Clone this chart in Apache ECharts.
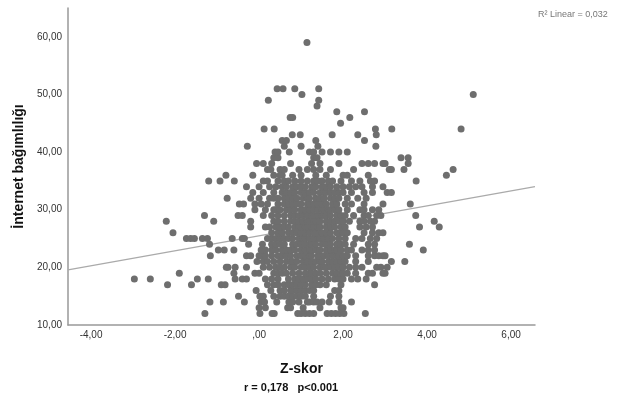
<!DOCTYPE html>
<html>
<head>
<meta charset="utf-8">
<script src="https://cdn.jsdelivr.net/npm/echarts@6/dist/echarts.min.js"></script>
<style>
  html, body { margin: 0; padding: 0; background: #fff; }
  #chart { width: 625px; height: 398px; }
</style>
</head>
<body>
<div id="chart"></div>
<script>
  var scoreLevels = [12, 13, 14, 15, 16, 17, 18, 19, 20, 21, 22, 23, 24, 25, 26, 27, 28, 29, 30,
    31, 32, 33, 34, 35, 36, 37, 38, 39, 40, 41, 42, 43, 44, 45, 46, 47, 48, 49, 50, 51, 59];
  var zByLevel = [
    [-1.29, 0.02, 0.31, 0.36, 0.92, 1.0, 1.1, 1.2, 1.3, 1.62, 1.72, 1.82, 1.92, 2.02, 2.53],
    [0.0, 0.15, 0.68, 0.75, 1.05, 1.45, 1.95, 2.0],
    [-1.17, -0.85, -0.35, 0.05, 0.13, 0.42, 0.71, 0.8, 0.95, 1.15, 1.2, 1.3, 1.38, 1.5, 1.67, 1.9, 2.2],
    [-0.49, 0.02, 0.1, 0.35, 0.5, 0.6, 0.7, 0.8, 0.9, 1.0, 1.1, 1.3, 1.7, 1.9],
    [-0.07, 0.28, 0.5, 0.6, 0.75, 0.8, 0.9, 1.0, 1.1, 1.2, 1.3, 1.8, 1.9],
    [-2.18, -1.61, -0.9, -0.81, 0.2, 0.35, 0.45, 0.6, 0.7, 0.8, 0.9, 1.0, 1.1, 1.25, 1.35, 1.45, 1.6, 1.95, 2.75],
    [-2.97, -2.59, -1.47, -1.21, -0.57, -0.4, -0.3, 0.15, 0.3, 0.45, 0.7, 0.85, 0.95, 1.05, 1.15, 1.25, 1.35, 1.5, 1.65, 1.8, 1.9, 2.0, 2.2, 2.35, 2.55],
    [-1.9, -0.6, -0.1, 0.0, 0.35, 0.45, 0.55, 0.65, 0.8, 0.95, 1.1, 1.2, 1.25, 1.35, 1.45, 1.6, 1.75, 1.85, 1.95, 2.0, 2.1, 2.3, 2.6, 2.7, 2.95, 3.0],
    [-0.78, -0.74, -0.57, -0.3, 0.1, 0.25, 0.4, 0.5, 0.6, 0.75, 0.85, 1.0, 1.1, 1.2, 1.3, 1.45, 1.55, 1.6, 1.7, 1.8, 1.9, 2.0, 2.15, 2.3, 2.45, 2.8, 2.9, 3.05],
    [-0.05, 0.1, 0.2, 0.35, 0.5, 0.65, 0.75, 0.8, 0.9, 1.05, 1.15, 1.25, 1.35, 1.45, 1.5, 1.65, 1.75, 1.85, 1.95, 2.05, 2.3, 2.6, 3.15, 3.47],
    [-1.16, -0.3, -0.2, 0.0, 0.05, 0.15, 0.3, 0.45, 0.55, 0.65, 0.75, 0.9, 1.0, 1.1, 1.2, 1.25, 1.4, 1.45, 1.55, 1.65, 1.75, 1.85, 1.9, 2.0, 2.1, 2.3, 2.6, 2.75, 2.85, 2.95, 3.0],
    [-0.97, -0.83, -0.6, 0.05, 0.15, 0.3, 0.4, 0.55, 0.65, 0.75, 0.85, 1.0, 1.1, 1.2, 1.25, 1.35, 1.45, 1.6, 1.7, 1.8, 1.85, 1.95, 2.1, 2.2, 2.45, 2.6, 2.75, 3.91],
    [-1.18, -0.25, 0.08, 0.3, 0.4, 0.5, 0.6, 0.8, 0.9, 1.0, 1.1, 1.2, 1.25, 1.35, 1.5, 1.6, 1.7, 1.85, 1.95, 2.05, 2.25, 2.6, 2.75, 3.58],
    [-1.73, -1.63, -1.54, -1.35, -1.23, -0.64, -0.4, -0.35, 0.2, 0.3, 0.4, 0.5, 0.6, 0.7, 0.8, 0.95, 1.05, 1.1, 1.2, 1.3, 1.4, 1.45, 1.55, 1.65, 1.75, 1.9, 2.05, 2.3, 2.45, 2.65, 2.8],
    [-2.05, 0.3, 0.45, 0.55, 0.7, 0.8, 0.9, 1.0, 1.1, 1.2, 1.3, 1.35, 1.45, 1.5, 1.6, 1.7, 1.85, 1.95, 2.0, 2.1, 2.5, 2.7, 2.85, 2.95],
    [-0.2, 0.15, 0.25, 0.4, 0.5, 0.6, 0.7, 0.85, 0.95, 1.0, 1.1, 1.15, 1.25, 1.3, 1.4, 1.45, 1.6, 1.7, 1.8, 1.95, 2.05, 2.4, 2.55, 2.7, 3.82, 4.29],
    [-2.21, -1.08, -0.2, 0.35, 0.45, 0.6, 0.75, 0.85, 0.95, 1.05, 1.15, 1.2, 1.3, 1.35, 1.45, 1.6, 1.7, 1.8, 1.9, 2.0, 2.15, 2.4, 2.5, 2.65, 2.75, 4.17],
    [-1.3, -0.5, -0.4, 0.1, 0.3, 0.45, 0.6, 0.75, 0.85, 0.95, 1.05, 1.15, 1.25, 1.3, 1.4, 1.5, 1.55, 1.6, 1.7, 1.85, 1.95, 2.05, 2.25, 2.5, 2.6, 2.8, 2.9, 3.73],
    [-0.1, 0.15, 0.35, 0.4, 0.5, 0.65, 0.75, 0.85, 1.0, 1.1, 1.2, 1.3, 1.4, 1.5, 1.55, 1.65, 1.7, 1.8, 1.9, 2.1, 2.4, 2.5, 2.7, 2.85],
    [-0.47, -0.37, -0.1, 0.05, 0.2, 0.45, 0.6, 0.7, 0.8, 0.9, 1.0, 1.15, 1.2, 1.3, 1.4, 1.5, 1.6, 1.75, 1.85, 2.05, 2.2, 2.5, 2.95, 3.6],
    [-0.76, -0.2, 0.0, 0.25, 0.35, 0.45, 0.6, 0.7, 0.8, 0.9, 1.05, 1.15, 1.2, 1.35, 1.45, 1.55, 1.7, 1.8, 1.9, 2.1, 2.35, 2.55],
    [-0.15, 0.1, 0.35, 0.55, 0.65, 0.75, 0.85, 1.0, 1.1, 1.2, 1.3, 1.45, 1.55, 1.6, 1.7, 1.8, 1.9, 2.0, 2.2, 2.5, 2.7, 3.05, 3.15],
    [-0.3, 0.0, 0.25, 0.4, 0.55, 0.65, 0.8, 0.9, 1.0, 1.1, 1.25, 1.3, 1.35, 1.5, 1.6, 1.7, 1.85, 2.0, 2.15, 2.3, 2.45, 2.7, 2.95],
    [-1.2, -0.93, -0.59, 0.1, 0.2, 0.45, 0.6, 0.7, 0.85, 1.0, 1.15, 1.3, 1.4, 1.5, 1.65, 1.75, 1.95, 2.2, 2.4, 2.65, 2.75, 3.74],
    [-0.79, -0.15, 0.35, 0.5, 0.55, 0.8, 1.0, 1.35, 1.6, 2.0, 2.1, 2.6, 4.46],
    [0.2, 0.28, 0.5, 0.6, 0.95, 1.15, 1.3, 1.45, 1.7, 2.25, 3.1, 3.15, 3.45, 4.62],
    [-0.06, 0.1, 0.3, 0.75, 1.25, 1.45, 1.9, 2.45, 2.6, 2.75, 2.95, 3.0, 3.55],
    [0.35, 0.45, 1.3, 1.38, 3.38, 3.55],
    [0.38, 0.45, 0.72, 1.2, 1.3, 1.5, 1.7, 1.9, 2.1],
    [-0.28, 0.6, 1.0, 1.4, 2.78],
    [0.55, 0.65, 1.35, 2.51],
    [0.79, 0.98, 1.74, 2.35, 2.79],
    [0.12, 0.36, 2.77, 3.16, 4.81],
    [1.94],
    [0.74, 0.8, 2.16],
    [1.85, 2.51],
    [1.38],
    [0.22, 1.42],
    [1.02, 5.1],
    [0.43, 0.57, 0.85, 1.42],
    [1.14]
  ];

  // linear fit drawn across the axis range
  var fitX = [-4.55, 6.57];
  var fitY = [19.55, 34.0];

  var xTicks = [-4, -2, 0, 2, 4, 6];
  var yTicks = [10, 20, 30, 40, 50, 60];

  var points = [];
  for (var i = 0; i < scoreLevels.length; i++) {
    for (var j = 0; j < zByLevel[i].length; j++) {
      points.push([zByLevel[i][j], scoreLevels[i]]);
    }
  }

  // SPSS style labels: 2,00  ,00  -4,00
  function spssNum(v) {
    var s = Math.abs(v).toFixed(2).replace('.', ',');
    if (v === 0) return ',00';
    return (v < 0 ? '-' : '') + s;
  }

  var chart = echarts.init(document.getElementById('chart'));
  var option = {
    animation: false,
    textStyle: { fontFamily: 'Liberation Sans, Arial, sans-serif' },
    grid: { left: 68, right: 90, top: 8, bottom: 73 },
    xAxis: {
      type: 'value',
      min: fitX[0],
      max: fitX[1],
      name: 'Z-skor',
      nameLocation: 'middle',
      nameGap: 37,
      nameTextStyle: { fontSize: 14, fontWeight: 'bold', color: '#111' },
      splitLine: { show: false },
      axisLine: { onZero: false, lineStyle: { color: '#999', width: 1.5 } },
      axisTick: { show: false },
      axisLabel: {
        customValues: xTicks,
        fontSize: 10,
        color: '#333',
        margin: 5,
        formatter: spssNum
      }
    },
    yAxis: {
      type: 'value',
      min: 10,
      max: 65,
      name: 'İnternet bağımlılığı',
      nameLocation: 'middle',
      nameGap: 42,
      nameTextStyle: { fontSize: 14, fontWeight: 'bold', color: '#111' },
      splitLine: { show: false },
      axisLine: { show: true, onZero: false, lineStyle: { color: '#999', width: 1.5 } },
      axisTick: { show: false },
      axisLabel: {
        customValues: yTicks,
        fontSize: 10,
        color: '#333',
        margin: 6,
        formatter: spssNum
      }
    },
    graphic: [
      {
        type: 'text', left: 538, top: 10,
        style: { text: 'R² Linear = 0,032', fontSize: 9, fill: '#777', fontFamily: 'Liberation Sans, Arial' }
      },
      {
        type: 'text', left: 244, top: 382,
        style: { text: 'r = 0,178   p<0.001', fontSize: 11, fontWeight: 'bold', fill: '#111', fontFamily: 'Liberation Sans, Arial' }
      }
    ],
    series: [
      {
        type: 'line',
        data: [[fitX[0], fitY[0]], [fitX[1], fitY[1]]],
        symbol: 'none',
        lineStyle: { color: '#aaa', width: 1.2 },
        z: 1
      },
      {
        type: 'scatter',
        data: points,
        symbolSize: 7,
        itemStyle: { color: '#6e6e6e', opacity: 1 },
        z: 2
      }
    ]
  };
  chart.setOption(option);
</script>
</body>
</html>
